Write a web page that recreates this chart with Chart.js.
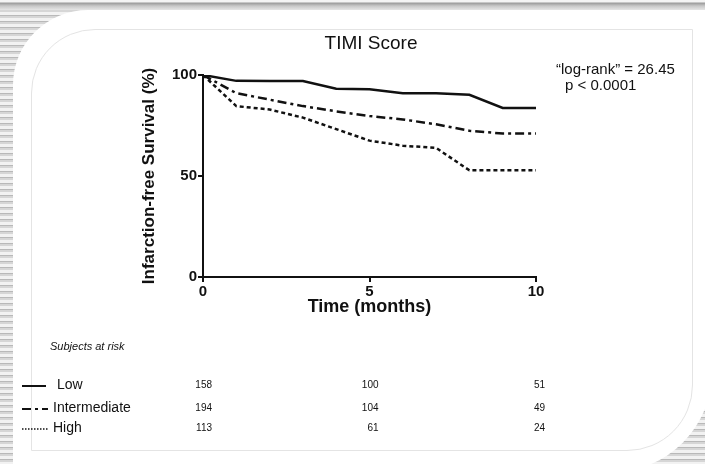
<!DOCTYPE html>
<html>
<head>
<meta charset="utf-8">
<script src="https://cdn.jsdelivr.net/npm/chart.js@4.4.1/dist/chart.umd.min.js"></script>
<style>
    html, body { margin: 0; padding: 0; }
    body {
        width: 705px; height: 464px; overflow: hidden; position: relative;
        background: repeating-linear-gradient(to bottom, #f2f2f2 0 3px, #b9b9b9 3px 4px, #d6d6d6 4px 6px);
        font-family: "Liberation Sans", Arial, sans-serif;
    }
    .topbar {
        position: absolute; left: 0; top: 0; width: 705px; height: 10px;
        background: linear-gradient(to bottom, #f4f4f4 0 2px, #9a9a9a 3px, #c8c8c8 6px, #e6e6e6 10px);
    }
    .card {
        position: absolute; left: 13px; top: 10px; width: 699px; height: 462px;
        background: #fff;
        border-top-left-radius: 75px;
        border-bottom-right-radius: 100px;
    }
    .inner {
        position: absolute; left: 31px; top: 29px; width: 660px; height: 420px;
        border: 1px solid #e4e4e4;
        border-top-left-radius: 64px;
        border-bottom-right-radius: 66px;
    }
    #chart { position: absolute; left: 0; top: 0; }
</style>
</head>
<body>
<div class="topbar"></div>
<div class="card"></div>
<div class="inner"></div>
<canvas id="chart" width="705" height="464"></canvas>
<script>
// --- Data ---
const months = [0, 1, 2, 3, 4, 5, 6, 7, 8, 9, 10];
const lowSurvival = [100, 97.1, 97, 97, 93.2, 93, 91, 91, 90.2, 83.7, 83.7];
const intermediateSurvival = [100, 91, 87.8, 84.6, 82, 79.7, 78, 75.6, 72.4, 71, 71];
const highSurvival = [100, 84.6, 82.9, 78.9, 73.2, 67.5, 65, 63.9, 52.8, 52.8, 52.8];

const riskTimes = [0, 5, 10];
const riskGroups = ['Low', 'Intermediate', 'High'];
const riskLow = [158, 100, 51];
const riskIntermediate = [194, 104, 49];
const riskHigh = [113, 61, 24];

const yTicks = [0, 50, 100];
const xTicks = [0, 5, 10];

const chartTitle = 'TIMI Score';
const statLines = ['\u201Clog-rank\u201D = 26.45', 'p < 0.0001'];

const toPoints = vals => months.map((m, i) => ({ x: m, y: vals[i] }));

const FONT = '"Liberation Sans", Arial, sans-serif';
// Dash styles shared by the plot lines and the risk-table key
const dashStyles = [[], [9, 4, 3, 4], [4, 3]];

// --- Extra text: title, statistics and risk table ---
const annotations = {
    id: 'annotations',
    afterDraw(chart) {
        const ctx = chart.ctx;
        const xs = chart.scales.x;
        ctx.save();
        ctx.fillStyle = '#111';
        ctx.textBaseline = 'middle';

        ctx.font = '19px ' + FONT;
        ctx.textAlign = 'center';
        ctx.fillText(chartTitle, 371, 44);

        ctx.font = '15px ' + FONT;
        ctx.textAlign = 'left';
        ctx.fillText(statLines[0], 556, 70);
        ctx.fillText(statLines[1], 565, 86);

        ctx.font = 'italic 11px ' + FONT;
        ctx.fillText('Subjects at risk', 50, 347);

        const rows = [riskLow, riskIntermediate, riskHigh];
        const rowY = [385, 408, 428];
        rows.forEach((vals, r) => {
            const y = rowY[r];
            // key line
            ctx.beginPath();
            ctx.setLineDash(r === 2 ? [1.5, 1.5] : dashStyles[r]);
            ctx.lineWidth = r === 2 ? 1.5 : 2;
            ctx.strokeStyle = '#111';
            ctx.moveTo(22, y + 1);
            ctx.lineTo(r === 0 ? 46 : 48, y + 1);
            ctx.stroke();
            ctx.setLineDash([]);

            ctx.font = '14px ' + FONT;
            ctx.textAlign = 'left';
            ctx.fillText(riskGroups[r], r === 0 ? 57 : 53, y);

            ctx.font = '10px "Liberation Sans Narrow", ' + FONT;
            ctx.textAlign = 'right';
            vals.forEach((v, i) => {
                ctx.fillText(String(v), xs.getPixelForValue(riskTimes[i]) + 9, y);
            });
        });
        ctx.restore();
    }
};

const ctx = document.getElementById('chart').getContext('2d');
new Chart(ctx, {
    type: 'line',
    data: {
        datasets: [
            { label: 'Low', data: toPoints(lowSurvival), borderDash: dashStyles[0] },
            { label: 'Intermediate', data: toPoints(intermediateSurvival), borderDash: dashStyles[1] },
            { label: 'High', data: toPoints(highSurvival), borderDash: dashStyles[2] }
        ].map(d => Object.assign(d, {
            borderColor: '#111',
            borderWidth: 2.5,
            pointRadius: 0,
            tension: 0,
            fill: false
        }))
    },
    options: {
        responsive: false,
        animation: false,
        layout: { padding: { left: 139, right: 169, top: 75, bottom: 146 } },
        plugins: {
            legend: { display: false },
            tooltip: { enabled: false }
        },
        scales: {
            x: {
                type: 'linear',
                min: 0, max: 10,
                afterBuildTicks: s => { s.ticks = xTicks.map(v => ({ value: v })); },
                afterFit: s => { s.height = 41; },
                border: { color: '#111', width: 2 },
                grid: { drawOnChartArea: false, drawTicks: true, tickLength: 5, color: '#111', lineWidth: 2 },
                ticks: {
                    color: '#111', padding: 1,
                    font: { family: FONT, size: 15, weight: 'bold' }
                },
                title: {
                    display: true, text: 'Time (months)', color: '#111', padding: { top: 0, bottom: 0 },
                    font: { family: FONT, size: 18, weight: 'bold' }
                }
            },
            y: {
                min: 0, max: 100,
                afterBuildTicks: s => { s.ticks = yTicks.map(v => ({ value: v })); },
                afterFit: s => { s.width = 64; },
                border: { color: '#111', width: 2 },
                grid: { drawOnChartArea: false, drawTicks: true, tickLength: 5, color: '#111', lineWidth: 2 },
                ticks: {
                    color: '#111', padding: 1,
                    font: { family: FONT, size: 15, weight: 'bold' }
                },
                title: {
                    display: true, text: 'Infarction-free Survival (%)', color: '#111', padding: { top: 0, bottom: 4 },
                    font: { family: FONT, size: 17, weight: 'bold' }
                }
            }
        }
    },
    plugins: [annotations]
});
</script>
</body>
</html>
